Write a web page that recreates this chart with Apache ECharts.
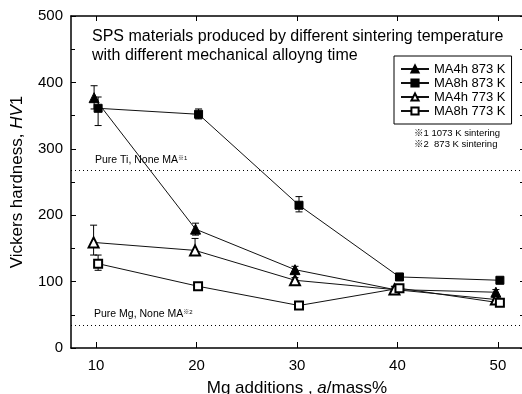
<!DOCTYPE html>
<html>
<head>
<meta charset="utf-8">
<script src="https://cdn.jsdelivr.net/npm/echarts@6/dist/echarts.min.js"></script>
<style>
  html, body { margin: 0; padding: 0; background: #fff; }
  #chart { width: 522px; height: 394px; }
</style>
</head>
<body>
<div id="chart"></div>
<script>
// Mg additions (mass%), x read per series since markers are slightly staggered
const xTicks = [10, 20, 30, 40, 50]
const names = ['MA4h 873 K', 'MA8h 873 K', 'MA4h 773 K', 'MA8h 773 K']

const ma4h873X = [9.8, 19.9, 29.8, 39.7, 49.8]
const ma4h873 = [377, 179, 118, 88, 84]
const ma4h873Lo = [360, 170, 112, 84, 80]
const ma4h873Hi = [395, 188, 123, 93, 88]

const ma8h873X = [10.2, 20.2, 30.2, 40.2, 50.2]
const ma8h873 = [361, 352, 215, 107, 102]
const ma8h873Lo = [335, 345, 205, 103, 99]
const ma8h873Hi = [378, 360, 228, 111, 105]

const ma4h773X = [9.75, 19.85, 29.8, 39.7, 49.8]
const ma4h773 = [159, 147, 102, 88, 73]
const ma4h773Lo = [140, 143, 97, 84, 70]
const ma4h773Hi = [185, 165, 106, 92, 76]

const ma8h773X = [10.2, 20.15, 30.2, 40.2, 50.2]
const ma8h773 = [127, 93, 64, 90, 68]
const ma8h773Lo = [117, 90, 62, 86, 66]
const ma8h773Hi = [140, 96, 66, 95, 70]

const pureTi = 268
const pureMg = 35

const font = '"Liberation Sans", "Noto Sans CJK JP", sans-serif'

const chart = echarts.init(document.getElementById('chart'))

const pts = (xs, ys) => xs.map((x, i) => [x, ys[i]])
const errs = (xs, lo, hi) => xs.map((x, i) => [x, lo[i], hi[i]])

function errorSeries(data) {
  return {
    type: 'custom',
    data: data,
    z: 1,
    silent: true,
    renderItem: function (params, api) {
      const top = api.coord([api.value(0), api.value(2)])
      const bot = api.coord([api.value(0), api.value(1)])
      const w = 3.5
      const style = { stroke: '#000', lineWidth: 1 }
      return {
        type: 'group',
        children: [
          { type: 'line', shape: { x1: top[0], y1: top[1], x2: bot[0], y2: bot[1] }, style: style },
          { type: 'line', shape: { x1: top[0] - w, y1: top[1], x2: top[0] + w, y2: top[1] }, style: style },
          { type: 'line', shape: { x1: bot[0] - w, y1: bot[1], x2: bot[0] + w, y2: bot[1] }, style: style }
        ]
      }
    }
  }
}

function lineSeries(name, data, symbol, size) {
  return {
    name: name,
    type: 'line',
    data: data,
    z: 3,
    symbol: symbol,
    symbolSize: size,
    showAllSymbol: true,
    lineStyle: { color: '#111', width: 1 },
    itemStyle: { color: '#000', borderColor: '#000', borderWidth: 1 },
    emphasis: { disabled: true }
  }
}

const option = {
  animation: false,
  backgroundColor: '#fff',
  textStyle: { fontFamily: font },
  grid: { left: 71, right: -1, top: 16, bottom: 46, outerBoundsMode: 'none', containLabel: false },
  legend: {
    data: names,
    left: 394,
    top: 56,
    orient: 'vertical',
    padding: [6, 6, 6, 6],
    itemGap: 0,
    itemWidth: 28,
    itemHeight: 9,
    borderColor: '#000',
    borderWidth: 1,
    textStyle: { fontSize: 13, lineHeight: 14, color: '#000', fontFamily: font }
  },
  xAxis: [
    {
      type: 'value',
      min: 7.5,
      max: 52.5,
      name: 'Mg additions , {i|a}/mass%',
      nameLocation: 'middle',
      nameGap: 32,
      nameTextStyle: { fontSize: 17, color: '#000', rich: { i: { fontSize: 17, fontStyle: 'italic', color: '#000' } } },
      axisLine: { lineStyle: { color: '#000', width: 1.5 } },
      axisTick: { inside: true, length: 6, customValues: xTicks, lineStyle: { color: '#000' } },
      axisLabel: { customValues: xTicks, fontSize: 15, color: '#000', margin: 10 },
      splitLine: { show: false }
    },
    {
      type: 'value',
      position: 'top',
      min: 7.5,
      max: 52.5,
      axisLine: { show: true, onZero: false, lineStyle: { color: '#000', width: 1.5 } },
      axisTick: { inside: true, length: 5, customValues: xTicks, lineStyle: { color: '#000' } },
      axisLabel: { show: false },
      splitLine: { show: false }
    }
  ],
  yAxis: [
    {
      type: 'value',
      min: 0,
      max: 500,
      interval: 100,
      name: 'Vickers hardness, {i|HV}1',
      nameLocation: 'middle',
      nameGap: 45,
      nameTextStyle: { fontSize: 17, color: '#000', rich: { i: { fontSize: 17, fontStyle: 'italic', color: '#000' } } },
      axisLine: { show: true, lineStyle: { color: '#000', width: 1.5 } },
      axisTick: { inside: true, length: 5, lineStyle: { color: '#000' } },
      minorTick: { show: true, splitNumber: 2, length: 4, lineStyle: { color: '#000' } },
      axisLabel: { fontSize: 15, color: '#000', margin: 8 },
      splitLine: { show: false }
    },
    {
      type: 'value',
      position: 'right',
      min: 0,
      max: 500,
      interval: 50,
      axisLine: { show: true, onZero: false, lineStyle: { color: '#000' } },
      axisTick: { inside: true, length: 3, lineStyle: { color: '#000' } },
      axisLabel: { show: false },
      splitLine: { show: false }
    }
  ],
  graphic: [
    { type: 'text', left: 92, top: 29, style: { text: 'SPS materials produced by different sintering temperature', fontSize: 16, fontFamily: font, fill: '#000' } },
    { type: 'text', left: 92, top: 48, style: { text: 'with different mechanical alloyng time', fontSize: 16, fontFamily: font, fill: '#000' } },
    { type: 'text', left: 414, top: 129, style: { text: '※1 1073 K sintering', fontSize: 9.5, fontFamily: font, fill: '#000' } },
    { type: 'text', left: 414, top: 140, style: { text: '※2  873 K sintering', fontSize: 9.5, fontFamily: font, fill: '#000' } },
    { type: 'text', left: 95, top: 155, style: { rich: { s: { fontSize: 6, verticalAlign: 'top', fontFamily: font } }, text: 'Pure Ti, None MA{s|※1}', fontSize: 10.5, fontFamily: font, fill: '#000' } },
    { type: 'text', left: 94, top: 309, style: { rich: { s: { fontSize: 6, verticalAlign: 'top', fontFamily: font } }, text: 'Pure Mg, None MA{s|※2}', fontSize: 10.5, fontFamily: font, fill: '#000' } }
  ],
  series: [
    errorSeries(errs(ma4h873X, ma4h873Lo, ma4h873Hi)),
    errorSeries(errs(ma8h873X, ma8h873Lo, ma8h873Hi)),
    errorSeries(errs(ma4h773X, ma4h773Lo, ma4h773Hi)),
    errorSeries(errs(ma8h773X, ma8h773Lo, ma8h773Hi)),
    lineSeries(names[0], pts(ma4h873X, ma4h873), 'triangle', 10),
    lineSeries(names[1], pts(ma8h873X, ma8h873), 'rect', 8),
    lineSeries(names[2], pts(ma4h773X, ma4h773), 'emptyTriangle', 10),
    lineSeries(names[3], pts(ma8h773X, ma8h773), 'emptyRect', 8),
    {
      type: 'line',
      data: [],
      silent: true,
      markLine: {
        symbol: 'none',
        silent: true,
        label: { show: false },
        lineStyle: { color: '#000', type: [1, 3], width: 1 },
        data: [{ yAxis: pureTi }, { yAxis: pureMg }]
      }
    }
  ]
}

chart.setOption(option)
</script>
</body>
</html>
